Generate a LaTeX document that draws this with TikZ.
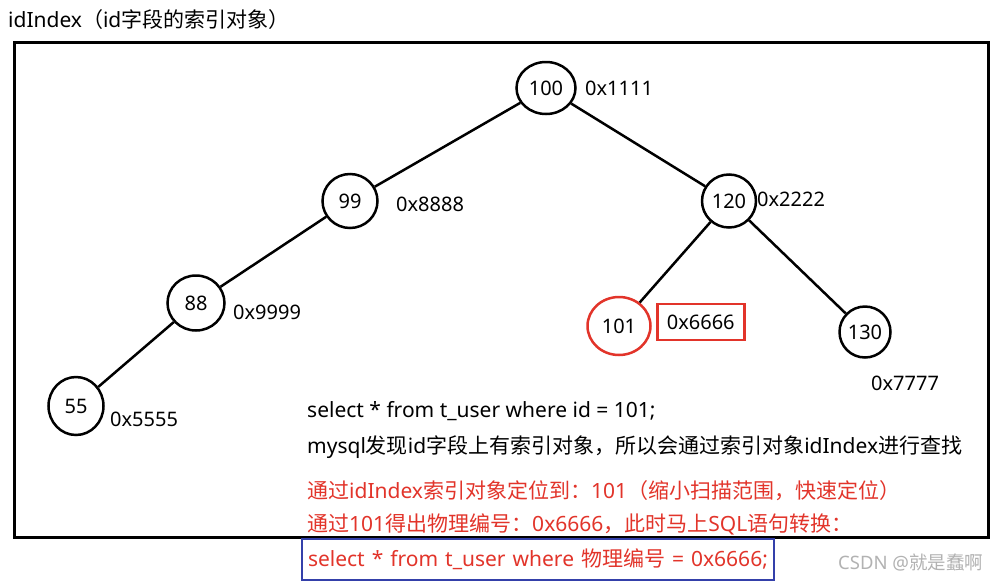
\documentclass[tikz,border=0pt]{standalone}
\usepackage{fontspec}
\setmainfont{Noto Sans}
\newfontfamily\cjk{Noto Sans CJK SC}
\usetikzlibrary{shapes.geometric}
\definecolor{rd}{RGB}{226,52,42}
\definecolor{bl}{RGB}{52,64,170}
\begin{document}
\begin{tikzpicture}[x=1pt,y=-1pt,
  font=\fontsize{20}{23}\selectfont,
  tn/.style={ellipse, draw, line width=2.5pt, inner sep=0pt},
  ed/.style={line width=2.5pt},
  lab/.style={anchor=west, inner sep=0pt},
  big/.style={font=\fontsize{21}{24}\selectfont}]
\useasboundingbox (0,0) rectangle (991,582);
\fill[white] (0,0) rectangle (991,582);
% frame
\draw[line width=3pt] (14,42) rectangle (988,537);
% title
\node[lab, big] (title) at (8,20) {idIndex{\cjk （}id{\cjk 字段的索引对象）}};
% tree nodes
\node[tn, minimum width=59pt, minimum height=52pt] (n100) at (546,88) {100};
\node[tn, minimum width=55pt, minimum height=54pt] (n99) at (350,201) {99};
\node[tn, minimum width=54pt, minimum height=53pt] (n120) at (729,201) {120};
\node[tn, minimum width=57pt, minimum height=55pt] (n88) at (196,303) {88};
\node[tn, minimum width=55pt, minimum height=58pt] (n55) at (76,406) {55};
\node[tn, draw=rd, minimum width=63pt, minimum height=58pt] (n101) at (619,326) {101};
\node[tn, minimum width=51pt, minimum height=51pt] (n130) at (865,332) {130};
% edges
\draw[ed] (n100) -- (n99);
\draw[ed] (n100) -- (n120);
\draw[ed] (n99) -- (n88);
\draw[ed] (n88) -- (n55);
\draw[ed] (n120) -- (n101);
\draw[ed] (n120) -- (n130);
% address labels
\node[lab] (a100) at (585,88) {0x1111};
\node[lab] (a99) at (396,204) {0x8888};
\node[lab] (a120) at (757,199) {0x2222};
\node[lab] (a88) at (233,312) {0x9999};
\node[lab] (a55) at (110,419) {0x5555};
\node[anchor=west, draw=rd, line width=2.5pt, inner xsep=5pt, minimum width=87pt, minimum height=36pt] (a101) at (656,322) {0x6666};
\node[lab] (a130) at (871,383) {0x7777};
% explanation
\node[lab, big] (t1) at (307,411) {select * from t\_user where id = 101;};
\node[lab, big] (t2) at (307,447) {mysql{\cjk 发现}id{\cjk 字段上有索引对象，所以会通过索引对象}idIndex{\cjk 进行查找}};
\node[lab, big, text=rd] (t3) at (307,491) {{\cjk 通过}idIndex{\cjk 索引对象定位到：}101{\cjk （缩小扫描范围，快速定位）}};
\node[lab, big, text=rd] (t4) at (307,524) {{\cjk 通过}101{\cjk 得出物理编号：}0x6666{\cjk ，此时马上}SQL{\cjk 语句转换：}};
\node[anchor=west, big, draw=bl, line width=2pt, text=rd, minimum width=472pt, minimum height=41pt, inner xsep=6pt, text width=460pt, align=left] (t5) at (301,559) {select * from t\_user where {\cjk 物理编号} = 0x6666;};
\node[lab, text=black!30, font=\fontsize{18.5}{20}\selectfont] (wm) at (838,563) {CSDN @{\cjk 就是蠢啊}};
\end{tikzpicture}
\end{document}
